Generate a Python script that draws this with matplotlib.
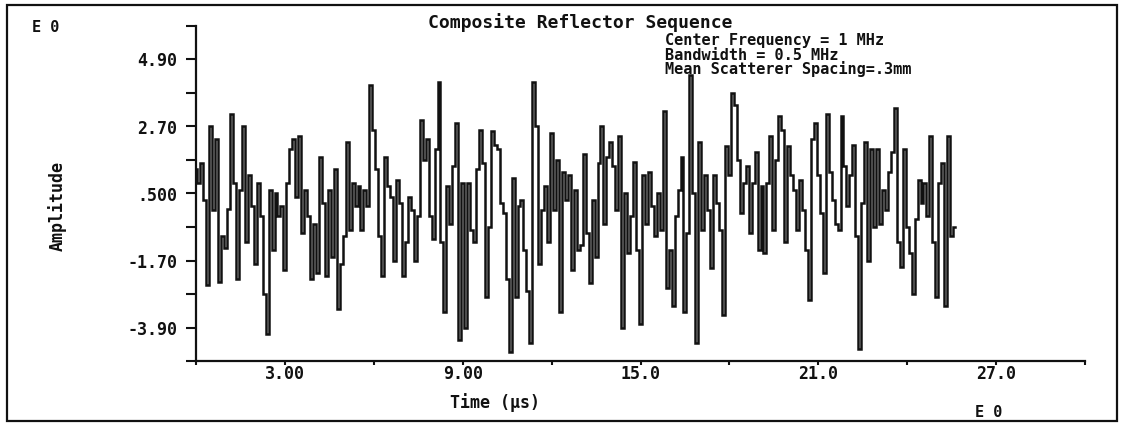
import numpy as np
import matplotlib.pyplot as plt
from matplotlib.patches import Rectangle

# figure size in pixels (dpi 100)
W, H = 1125, 423

# signal, one value every 0.1 us
time_step = 0.1
amplitude = [
    1.3, 0.85, 1.5, 0.3, -2.5, 2.7, -0.03, 2.3, -2.4, -0.9,
    -1.3, 0.0, 3.1, 0.85, -2.3, 0.6, 2.7, -1.1, 1.1, 0.1,
    -1.8, 0.85, -0.25, -2.8, -4.1, 0.6, -1.35, 0.5, -0.25, 0.1,
    -2.0, 0.85, 1.95, 2.3, 0.4, 2.4, -0.8, 0.6, -0.25, -2.3,
    -0.5, -2.1, 1.7, 0.2, -2.2, 0.6, -1.6, 1.3, -3.3, -1.8,
    -0.9, 2.2, -0.7, 0.85, 0.1, 0.75, -0.7, 0.6, 0.1, 4.06,
    2.6, 1.3, -0.9, -2.2, 1.7, 0.75, 0.4, -1.7, 0.95, 0.2,
    -2.2, -1.1, 0.4, -0.03, -1.7, -0.25, 2.9, 1.6, 2.3, -0.25,
    -1.0, 1.95, 4.15, -1.1, -3.4, 0.75, -0.5, 1.4, 2.8, -4.3,
    0.85, -3.9, 0.85, -0.7, -1.1, 1.3, 2.6, 1.5, -2.9, -0.6,
    2.55, 2.1, 1.95, 0.2, -0.15, -2.3, -4.7, 1.0, -2.9, 0.1,
    0.3, -1.35, -2.7, -4.4, 4.15, 2.7, -1.8, -0.03, 0.75, -1.1,
    2.5, -0.03, 1.6, -3.4, 1.2, 0.3, 1.1, -2.0, 0.6,
    -1.35, -1.2, 1.8, -0.8, -2.45, 0.3, -1.6, 1.5, 2.7, -0.5,
    1.7, 2.2, 1.4, -0.03, 2.4, -3.9, 0.5, -1.45, -0.25, 1.55,
    -1.35, -3.8, 1.1, -0.5, 1.2, 0.1, -0.9, 0.5, -0.7, 3.2,
    -2.6, -1.35, -3.2, -0.25, 0.6, 1.7, -3.4, -0.8, 4.4, 0.5,
    -4.4, 2.2, -0.7, 1.1, -0.03, -1.95, 1.1, 0.2, -0.7, -3.5,
    2.05, 1.1, 3.8, 3.4, 1.6, -0.15, 0.85, 1.4, -0.8, 0.85,
    1.85, -1.35, 0.75, -1.45,
    0.85, 2.4, -0.7, 1.6, 3.05, 2.6, -1.1, 2.05, 1.1, 0.6,
    -0.7, 0.95, -0.03, -1.35, -3.0, 2.3, 2.8, 1.1, -0.15, -2.1,
    3.1, 1.2, 0.3, -0.5, -0.7, 3.05, 1.4, 0.1, 1.1, 2.1,
    -0.9, -4.6, 0.2, 2.2, -1.7, 1.95, -0.6, 1.95, -0.5, 0.6,
    -0.03, 1.2, 1.85, 3.3, -1.1, -1.9, 1.95, -0.6, -1.45, -2.8,
    -0.35, 0.95, 0.2, 0.85, -0.25, 2.4, -1.1, -2.9, 0.85, 1.5,
    -3.2, 2.4, -0.9, -0.6,
]

y_major = [4.90, 2.70, 0.500, -1.70, -3.90]
y_major_labels = ["4.90", "2.70", ".500", "-1.70", "-3.90"]
y_minor = [6.0, 3.8, 1.6, -0.6, -2.8, -5.0]
x_major = [3, 9, 15, 21, 27]
x_major_labels = ["3.00", "9.00", "15.0", "21.0", "27.0"]
x_minor = [0, 6, 12, 18, 24, 30]

title = "Composite Reflector Sequence"
notes = ["Center Frequency = 1 MHz", "Bandwidth = 0.5 MHz",
         "Mean Scatterer Spacing=.3mm"]

FONT = "DejaVu Sans Mono"
INK = "#111111"


def fx(px):
    return px / W


def fy(py):
    return 1 - py / H


plt.rcParams["font.family"] = [FONT, "DejaVu Sans"]
plt.rcParams["font.weight"] = "bold"

fig = plt.figure(figsize=(W / 100, H / 100), dpi=100)
fig.patch.set_facecolor("white")

# axes box: x 0..30 -> px 196..1085, y 6.0..-5.0 -> px 26..361
ax = fig.add_axes([fx(196), fy(361), (1085 - 196) / W, (361 - 26) / H])

times = np.arange(len(amplitude)) * time_step
ax.plot(times, amplitude, color=INK, lw=1.8, drawstyle="steps-mid",
        solid_joinstyle="miter")

ax.set_xlim(0, 30)
ax.set_ylim(-5.0, 6.0)

for side in ["top", "right"]:
    ax.spines[side].set_visible(False)
for side in ["left", "bottom"]:
    ax.spines[side].set_linewidth(1.6)
    ax.spines[side].set_color(INK)

ax.set_yticks(y_major)
ax.set_yticklabels(y_major_labels)
ax.set_yticks(y_minor, minor=True)
ax.set_xticks(x_major)
ax.set_xticklabels(x_major_labels)
ax.set_xticks(x_minor, minor=True)

ax.tick_params(axis="y", which="both", direction="out", length=7.5,
               width=1.5, color=INK, pad=6, labelsize=12)
ax.tick_params(axis="x", which="both", direction="out", length=3,
               width=1.5, color=INK, pad=0, labelsize=12)
for lab in ax.get_xticklabels() + ax.get_yticklabels():
    lab.set_fontweight("bold")
    lab.set_color(INK)

# labels and captions in figure pixels
fig.text(fx(57), fy(206), "Amplitude", rotation=90, ha="center",
         va="center", fontsize=12, fontweight="bold", color=INK)
fig.text(fx(495), fy(403), "Time (\u00b5s)", ha="center", va="center",
         fontsize=12, fontweight="bold", color=INK)
fig.text(fx(580), fy(23), title, ha="center", va="center",
         fontsize=13, fontweight="bold", color=INK)
for note, py in zip(notes, [40, 55, 69]):
    fig.text(fx(665), fy(py), note, ha="left", va="center",
             fontsize=11, fontweight="bold", color=INK)
fig.text(fx(32), fy(27), "E 0", ha="left", va="center",
         fontsize=11, fontweight="bold", color=INK)
fig.text(fx(975), fy(412), "E 0", ha="left", va="center",
         fontsize=11, fontweight="bold", color=INK)

# outer frame of the scanned page
fig.patches.append(Rectangle((fx(7), fy(421)), fx(1117) - fx(7),
                             fy(5) - fy(421), transform=fig.transFigure,
                             fill=False, lw=1.6, ec=INK))

fig.savefig("out.png", dpi=100, facecolor="white")
